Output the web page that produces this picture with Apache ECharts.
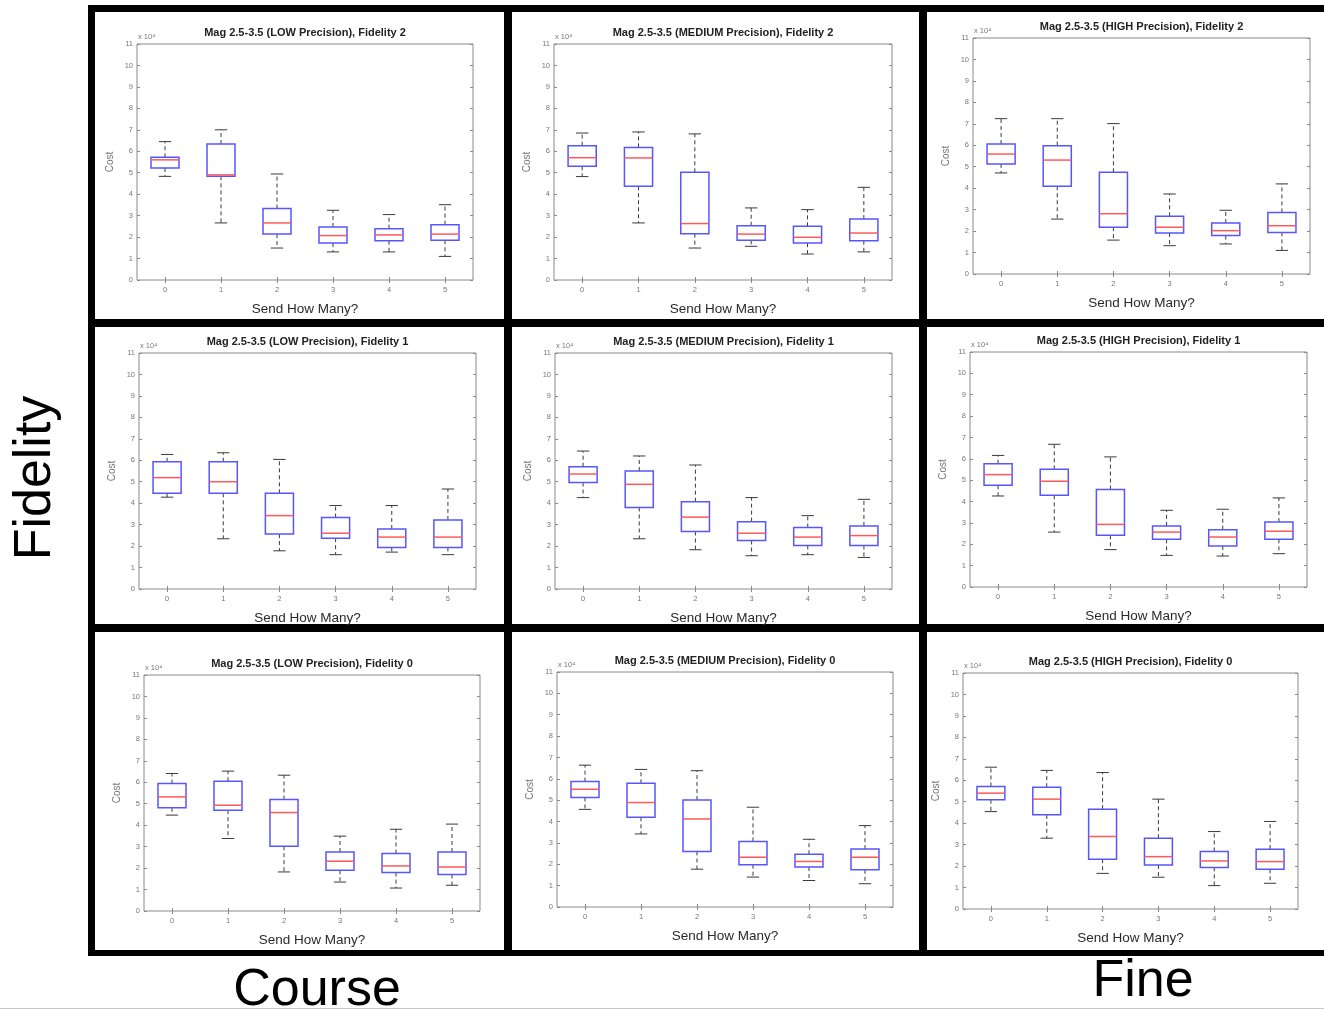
<!DOCTYPE html>
<html>
<head>
<meta charset="utf-8">
<title>Send How Many - Cost boxplots</title>
<script src="https://cdn.jsdelivr.net/npm/echarts@6/dist/echarts.min.js"></script>
<style>
  html, body { margin: 0; padding: 0; background: #fff; }
  #main { width: 1324px; height: 1010px; }
</style>
</head>
<body>
<div id="main"></div>
<script>
// categories on the x axis
var categories = ['0', '1', '2', '3', '4', '5'];

// each row: [lower whisker, q1, median, q3, upper whisker]  (Cost, x 10^4)
var lowFid2 = [[4.83, 5.22, 5.60, 5.72, 6.45], [2.66, 4.83, 4.90, 6.34, 7.00], [1.49, 2.14, 2.66, 3.33, 4.94],
               [1.31, 1.72, 2.07, 2.47, 3.25], [1.31, 1.83, 2.10, 2.39, 3.05], [1.10, 1.85, 2.14, 2.58, 3.51]];
var medFid2 = [[4.82, 5.30, 5.70, 6.26, 6.85], [2.66, 4.37, 5.69, 6.18, 6.90], [1.49, 2.16, 2.63, 5.02, 6.81],
               [1.57, 1.85, 2.14, 2.53, 3.36], [1.21, 1.72, 1.99, 2.50, 3.28], [1.31, 1.83, 2.19, 2.84, 4.32]];
var highFid2 = [[4.71, 5.13, 5.59, 6.06, 7.24], [2.56, 4.09, 5.31, 5.98, 7.24], [1.58, 2.18, 2.81, 4.74, 7.01],
                [1.32, 1.91, 2.18, 2.69, 3.73], [1.40, 1.79, 2.02, 2.38, 2.97], [1.10, 1.94, 2.25, 2.87, 4.20]];
var lowFid1 = [[4.28, 4.46, 5.19, 5.93, 6.27], [2.34, 4.46, 5.00, 5.93, 6.35], [1.78, 2.56, 3.42, 4.46, 6.04],
               [1.60, 2.37, 2.60, 3.33, 3.89], [1.72, 1.94, 2.42, 2.80, 3.89], [1.60, 1.94, 2.42, 3.22, 4.66]];
var medFid1 = [[4.26, 4.96, 5.36, 5.70, 6.43], [2.34, 3.80, 4.88, 5.50, 6.20], [1.83, 2.68, 3.35, 4.07, 5.78],
               [1.55, 2.26, 2.60, 3.14, 4.26], [1.60, 2.03, 2.42, 2.87, 3.42], [1.47, 2.03, 2.49, 2.94, 4.18]];
var highFid1 = [[4.26, 4.76, 5.26, 5.77, 6.16], [2.57, 4.29, 4.95, 5.51, 6.68], [1.75, 2.42, 2.93, 4.56, 6.09],
                [1.48, 2.23, 2.57, 2.86, 3.59], [1.45, 1.92, 2.34, 2.68, 3.64], [1.56, 2.23, 2.61, 3.04, 4.17]];
var lowFid0 = [[4.47, 4.81, 5.32, 5.94, 6.41], [3.38, 4.70, 4.93, 6.05, 6.52], [1.82, 3.02, 4.59, 5.20, 6.33],
               [1.35, 1.90, 2.32, 2.75, 3.49], [1.07, 1.79, 2.10, 2.68, 3.81], [1.20, 1.70, 2.05, 2.75, 4.05]];
var medFid0 = [[4.57, 5.13, 5.51, 5.87, 6.64], [3.42, 4.20, 4.89, 5.79, 6.44], [1.77, 2.60, 4.12, 5.01, 6.38],
               [1.40, 1.98, 2.33, 3.07, 4.67], [1.24, 1.87, 2.13, 2.47, 3.17], [1.09, 1.74, 2.33, 2.71, 3.81]];
var highFid0 = [[4.54, 5.09, 5.40, 5.71, 6.61], [3.30, 4.39, 5.12, 5.68, 6.46], [1.66, 2.32, 3.38, 4.65, 6.36],
                [1.48, 2.05, 2.44, 3.30, 5.12], [1.09, 1.94, 2.24, 2.68, 3.61], [1.20, 1.85, 2.21, 2.79, 4.08]];

var precisions = ['LOW', 'MEDIUM', 'HIGH'];
var fidelities = [2, 1, 0];
var panelData = [lowFid2, medFid2, highFid2, lowFid1, medFid1, highFid1, lowFid0, medFid0, highFid0];

// plot area of each panel [left, top, width, height]
var layout = [
  [137, 44, 336, 236], [554, 44, 338, 236], [973, 38, 337, 236],
  [139, 353, 337, 236], [555, 353, 337, 236], [970, 352, 337, 235],
  [144, 675, 336, 236], [557, 672, 336, 235], [963, 673, 335, 236]
];

var FONT = '"Liberation Sans", Arial, sans-serif';
var frameColor = '#8a8a8a';
var labelColor = '#777';

function renderBox(params, api) {
  var x = api.value(0);
  var lo = api.coord([x, api.value(1)]);
  var q1 = api.coord([x, api.value(2)]);
  var med = api.coord([x, api.value(3)]);
  var q3 = api.coord([x, api.value(4)]);
  var hi = api.coord([x, api.value(5)]);
  var band = api.size([1, 0])[0];
  var cx = lo[0];
  var bw = band * 0.5, cw = band * 0.22;
  var whisker = { stroke: '#3a3a3a', lineWidth: 1, lineDash: [4, 3] };
  var cap = { stroke: '#3a3a3a', lineWidth: 1 };
  return {
    type: 'group',
    children: [
      { type: 'line', shape: { x1: cx, y1: q3[1], x2: cx, y2: hi[1] }, style: whisker },
      { type: 'line', shape: { x1: cx, y1: q1[1], x2: cx, y2: lo[1] }, style: whisker },
      { type: 'line', shape: { x1: cx - cw / 2, y1: hi[1], x2: cx + cw / 2, y2: hi[1] }, style: cap },
      { type: 'line', shape: { x1: cx - cw / 2, y1: lo[1], x2: cx + cw / 2, y2: lo[1] }, style: cap },
      { type: 'rect', shape: { x: cx - bw / 2, y: q3[1], width: bw, height: q1[1] - q3[1] },
        style: { fill: null, stroke: '#5656ff', lineWidth: 1.5 } },
      { type: 'line', shape: { x1: cx - bw / 2, y1: med[1], x2: cx + bw / 2, y2: med[1] },
        style: { stroke: '#ff5a5a', lineWidth: 1.5 } }
    ]
  };
}

var grids = [], xAxes = [], yAxes = [], series = [], graphics = [];

panelData.forEach(function (rows, i) {
  var g = layout[i];
  grids.push({ left: g[0], top: g[1], width: g[2], height: g[3], show: true,
    borderColor: frameColor, borderWidth: 1, backgroundColor: 'transparent' });

  var tick = { show: true, inside: true, length: 3, alignWithLabel: true, lineStyle: { color: frameColor } };
  xAxes.push({
    gridIndex: i, type: 'category', data: categories, boundaryGap: true,
    axisLine: { show: false }, axisTick: tick, splitLine: { show: false },
    axisLabel: { fontSize: 7.5, color: labelColor, margin: 6, fontFamily: FONT },
    name: 'Send How Many?', nameLocation: 'middle', nameGap: 22,
    nameTextStyle: { fontSize: 13.5, color: '#2a2a2a', fontFamily: FONT }
  });
  xAxes.push({
    gridIndex: i, type: 'category', data: categories, position: 'top', boundaryGap: true,
    axisLine: { show: false }, axisTick: tick, axisLabel: { show: false }, splitLine: { show: false }
  });
  yAxes.push({
    gridIndex: i, type: 'value', min: 0, max: 11, interval: 1,
    axisLine: { show: false }, axisTick: { show: true, inside: true, length: 3, lineStyle: { color: frameColor } },
    splitLine: { show: false },
    axisLabel: { fontSize: 7.5, color: labelColor, margin: 4, fontFamily: FONT },
    name: 'Cost', nameLocation: 'middle', nameGap: 22,
    nameTextStyle: { fontSize: 10, color: labelColor, fontFamily: FONT }
  });
  yAxes.push({
    gridIndex: i, type: 'value', min: 0, max: 11, interval: 1, position: 'right',
    axisLine: { show: false }, axisTick: { show: true, inside: true, length: 3, lineStyle: { color: frameColor } },
    axisLabel: { show: false }, splitLine: { show: false }
  });

  series.push({
    type: 'custom', xAxisIndex: 2 * i, yAxisIndex: 2 * i,
    renderItem: renderBox,
    encode: { x: 0, y: [1, 2, 3, 4, 5] },
    data: rows.map(function (r, k) { return [k].concat(r); }),
    silent: true
  });

  // panel title
  graphics.push({
    type: 'text', x: g[0] + g[2] / 2, y: g[1] - 11,
    style: { text: 'Mag 2.5-3.5 (' + precisions[i % 3] + ' Precision), Fidelity ' + fidelities[Math.floor(i / 3)],
      font: 'bold 11px ' + FONT, fill: '#222', align: 'center', verticalAlign: 'middle' }
  });
  // exponent note
  graphics.push({
    type: 'text', x: g[0] + 1, y: g[1] - 7,
    style: { text: 'x 10⁴', font: '7.5px ' + FONT, fill: labelColor, align: 'left', verticalAlign: 'middle' }
  });
});

// heavy black frame of the 3x3 layout
var black = { fill: '#000' };
[
  [88, 5, 7, 951], [504, 5, 8, 951], [919, 5, 8, 951],
  [88, 5, 1236, 7], [88, 319, 1236, 8], [88, 624, 1236, 8], [88, 950, 1236, 6]
].forEach(function (r) {
  graphics.push({ type: 'rect', shape: { x: r[0], y: r[1], width: r[2], height: r[3] }, style: black });
});
graphics.push({ type: 'rect', shape: { x: 0, y: 1008, width: 1324, height: 1 }, style: { fill: '#c8c8c8' } });

// outer labels
graphics.push({ type: 'text', x: 317, y: 991,
  style: { text: 'Course', font: '52px ' + FONT, fill: '#000', align: 'center', verticalAlign: 'middle' } });
graphics.push({ type: 'text', x: 1143, y: 982,
  style: { text: 'Fine', font: '52px ' + FONT, fill: '#000', align: 'center', verticalAlign: 'middle' } });
graphics.push({ type: 'text', x: 36, y: 478, rotation: Math.PI / 2,
  style: { text: 'Fidelity', font: '52px ' + FONT, fill: '#000', align: 'center', verticalAlign: 'middle' } });

var myChart = echarts.init(document.getElementById('main'));
myChart.setOption({
  animation: false,
  backgroundColor: '#fff',
  grid: grids,
  xAxis: xAxes,
  yAxis: yAxes,
  series: series,
  graphic: graphics
});
</script>
</body>
</html>
